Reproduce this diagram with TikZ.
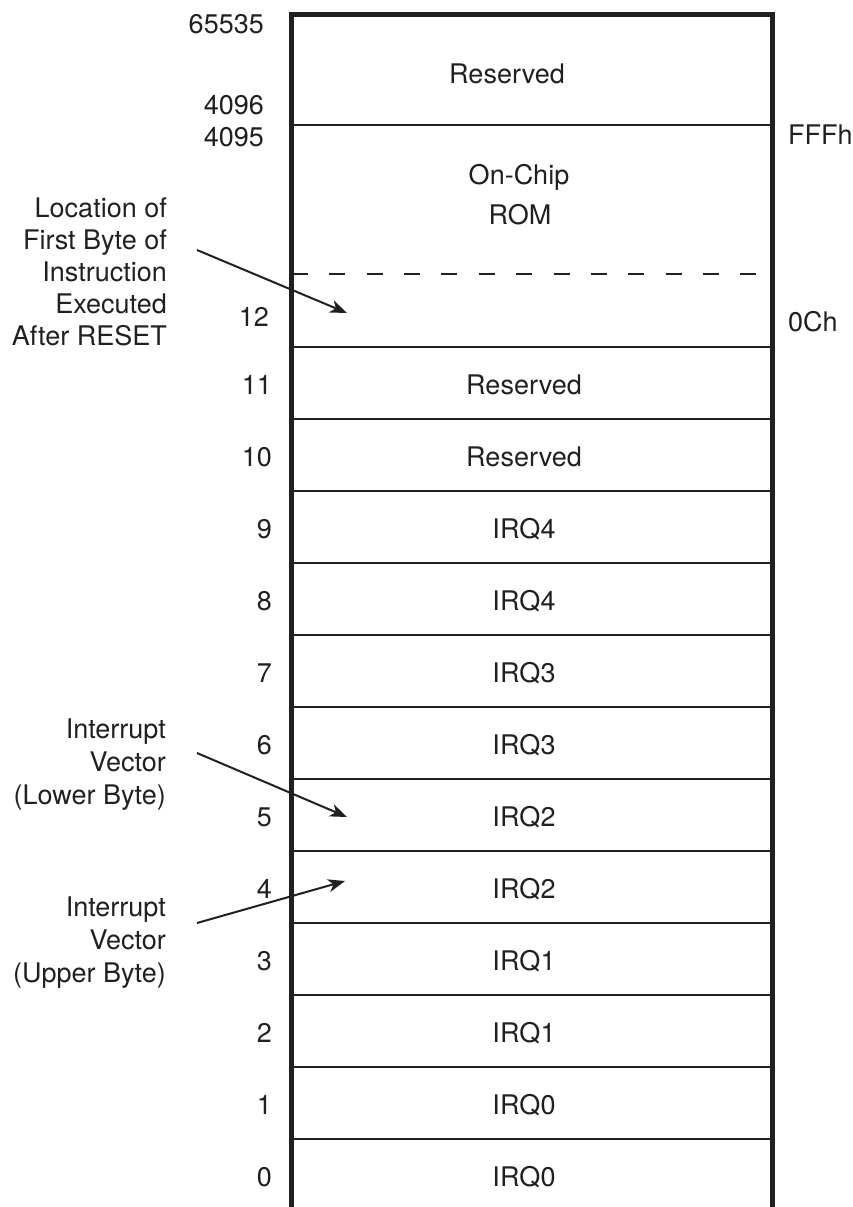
\documentclass[tikz,border=0pt]{standalone}
\usepackage{fontspec}
\setmainfont{TeX Gyre Heros}
\usetikzlibrary{arrows.meta}
\definecolor{ink}{HTML}{231F20}
\begin{document}
\begin{tikzpicture}[x=1pt,y=-1pt,
  lbl/.style={font=\fontsize{27}{32}\selectfont, text=ink, inner sep=0pt, anchor=base},
  numlbl/.style={lbl, anchor=base east},
  note/.style={font=\fontsize{27}{32}\selectfont, text=ink, inner sep=0pt, align=right, anchor=east},
  frame/.style={draw=ink, line width=5pt, line join=miter},
  divider/.style={draw=ink, line width=2pt},
  dashdiv/.style={draw=ink, line width=2pt, dash pattern=on 16pt off 21.36pt},
  pointer/.style={draw=ink, line width=2pt, -{Stealth[length=17pt,width=13pt,inset=5pt]}}
]
\useasboundingbox (0,0) rectangle (852,1207);

% outer frame
\draw[frame] (291,1210) -- (291,14.5) -- (772,14.5) -- (772,1210);

% dividers
\draw[divider] (291,125) -- (772,125);
\draw[dashdiv] (292,274) -- (760,274);
\foreach \i in {0,...,11} {
  \draw[divider] (291,{346.5+72*\i}) -- (772,{346.5+72*\i});
}

% top region labels
\node[lbl] (resTop) at (507,84) {Reserved};
\node[lbl] (onchip) at (519,184) {On-Chip};
\node[lbl] (rom) at (520,224) {ROM};
\node[numlbl] (n65535) at (264,34) {65535};
\node[numlbl] (n4096) at (264,114) {4096};
\node[numlbl] (n4095) at (264,146) {4095};
\node[numlbl] (n12) at (269,326) {12};
\node[lbl, anchor=base west] (fffh) at (788,144) {FFFh};
\node[lbl, anchor=base west] (och) at (788,331) {0Ch};

% rows 11 .. 0
\foreach \k/\t in {11/Reserved,10/Reserved,9/IRQ4,8/IRQ4,7/IRQ3,6/IRQ3,5/IRQ2,4/IRQ2,3/IRQ1,2/IRQ1,1/IRQ0,0/IRQ0} {
  \node[lbl] (r\k) at (524,{394.5+72*(11-\k)}) {\t};
  \node[numlbl] (n\k) at (272,{394.5+72*(11-\k)}) {\k};
}

% annotations
\node[note] (locnote) at (167,271.5) {Location of\\First Byte of\\Instruction\\Executed\\After RESET};
\node[note, font=\fontsize{27}{33}\selectfont] (lownote) at (166,765) {Interrupt\\Vector\\(Lower Byte)};
\node[note, font=\fontsize{27}{33}\selectfont] (upnote) at (166,943) {Interrupt\\Vector\\(Upper Byte)};

% arrow end points
\coordinate (a1s) at (197,250);
\coordinate (a1e) at (347,313);
\coordinate (a2s) at (197,753);
\coordinate (a2e) at (347,817);
\coordinate (a3s) at (197,923);
\coordinate (a3e) at (345,881);

\draw[pointer] (a1s) -- (a1e);
\draw[pointer] (a2s) -- (a2e);
\draw[pointer] (a3s) -- (a3e);
\end{tikzpicture}
\end{document}
